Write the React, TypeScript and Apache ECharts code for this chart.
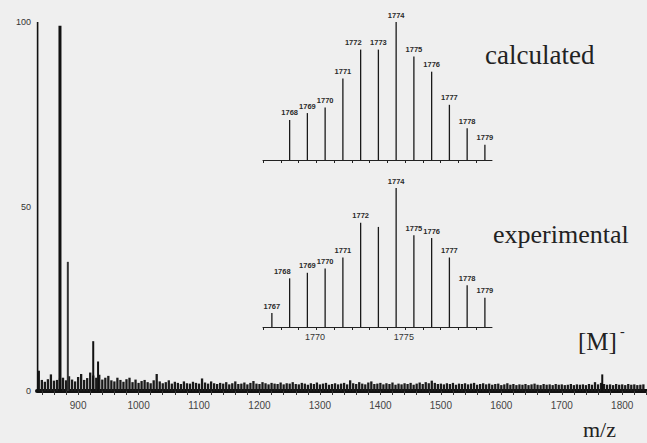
import React, { useEffect, useRef } from "react";
import * as echarts from "echarts";

// ---- data ----
const mainTickLabels = [900, 1000, 1100, 1200, 1300, 1400, 1500, 1600, 1700, 1800];
const yTickLabels = [0, 50, 100];

// strong peaks of the full spectrum [m/z, relative intensity %]
const mainPeakMz = [833, 870, 883, 925, 933, 1767];
const mainPeakInt = [100, 99, 35, 13.5, 8, 4.5];

// baseline noise, one reading every 5 m/z starting at 835
const noiseStartMz = 835;
const noiseStepMz = 5;
const noiseInt = [
  5.5, 3.0, 2.5, 3.2, 4.5, 2.8, 3.0, 3.4, 3.6, 2.9, 4.0, 3.1, 2.6, 3.8, 4.6, 3.0, 3.5, 5.0, 4.2, 3.6,
  4.4, 3.1, 3.6, 4.1, 2.9, 2.6, 3.6, 3.0, 2.5, 3.2, 3.6, 2.4, 3.1, 2.2, 2.7, 3.0, 2.4, 2.1, 2.9, 4.6,
  2.6, 2.1, 2.4, 2.9, 2.0, 2.5, 2.2, 1.9, 2.6, 2.1, 2.0, 2.5, 2.2, 2.0, 3.4, 2.3, 2.0, 2.6, 2.1, 1.9,
  2.2, 2.0, 2.4, 1.8, 2.1, 2.6, 1.9, 2.0, 2.3, 1.8, 2.2, 2.7, 2.0, 1.9, 2.4, 2.1, 1.8, 2.2, 2.0, 1.9,
  2.3, 1.8, 2.1, 2.0, 2.4, 1.9, 1.8, 2.2, 2.0, 1.7, 2.1, 1.9, 2.3, 1.8, 2.0, 2.2, 1.7, 1.9, 2.1, 1.8,
  2.0, 2.2, 1.8, 2.9, 2.1, 1.9, 2.4, 2.0, 1.8, 2.3, 2.6, 1.9, 2.0, 2.2, 1.8, 2.1, 1.9, 2.3, 1.7, 2.0,
  1.8, 2.1, 1.9, 2.2, 1.7, 2.0, 2.3, 1.9, 2.4, 2.1, 2.8, 2.2, 1.9, 2.0, 1.8, 2.1, 1.9, 2.2, 1.7, 2.0,
  1.9, 2.1, 1.8, 2.0, 2.2, 1.7, 1.9, 2.1, 1.8, 2.0, 1.7, 1.9, 2.0, 1.6, 1.8, 2.1, 1.7, 1.9, 1.6, 1.8,
  1.7, 1.9, 1.6, 1.8, 2.0, 1.7, 1.6, 1.9, 1.7, 1.8, 1.6, 1.9, 1.7, 1.8, 1.6, 1.7, 1.9, 1.6, 1.8, 1.7,
  1.8, 1.6, 1.9, 1.7, 2.4, 1.8, 2.2, 1.9, 1.7, 1.8, 1.6, 1.9, 1.7, 1.8, 1.6, 1.9, 1.7, 1.8, 1.6, 1.7, 1.8,
];

// calculated isotope pattern
const calcMz = [1768, 1769, 1770, 1771, 1772, 1773, 1774, 1775, 1776, 1777, 1778, 1779];
const calcInt = [29, 34, 38, 59, 80, 80, 100, 75, 64, 40, 23, 11];
const calcLabels = ["1768", "1769", "1770", "1771", "1772", "1773", "1774", "1775", "1776", "1777", "1778", "1779"];

// experimental isotope pattern
const expMz = [1767, 1768, 1769, 1770, 1771, 1772, 1773, 1774, 1775, 1776, 1777, 1778, 1779];
const expInt = [10, 35, 39, 42, 50, 75, 72, 100, 66, 64, 50, 30, 21];
const expLabels = ["1767", "1768", "1769", "1770", "1771", "1772", "", "1774", "1775", "1776", "1777", "1778", "1779"];
const expTickLabels = [1770, 1775];

const SERIF = "'Liberation Serif', 'DejaVu Serif', serif";
const SANS = "'Liberation Sans', 'DejaVu Sans', sans-serif";

function stick(
  width: (i: number) => number,
  color: (i: number) => string,
  labels?: string[],
  labelAlign?: (i: number) => string
) {
  return (params: any, api: any) => {
    const base = api.coord([api.value(0), 0]);
    const top = api.coord([api.value(0), api.value(1)]);
    const i = params.dataIndex;
    const line = {
      type: "line",
      shape: { x1: base[0], y1: base[1], x2: top[0], y2: top[1] },
      style: { stroke: color(i), lineWidth: width(i) },
    };
    if (!labels || !labels[i]) return line;
    const align = labelAlign ? labelAlign(i) : "center";
    return {
      type: "group",
      children: [
        line,
        {
          type: "text",
          x: align === "right" ? top[0] + 1 : top[0],
          y: top[1] - 3,
          style: {
            text: labels[i],
            align,
            verticalAlign: "bottom",
            fontSize: 7.5,
            fontWeight: "bold",
            fontFamily: SANS,
            fill: "#2a2a2a",
          },
        },
      ],
    };
  };
}

export default function App() {
  const ref = useRef<HTMLDivElement>(null);

  useEffect(() => {
    document.body.style.margin = "0";
    if (!ref.current) return;
    const chart = echarts.init(ref.current, undefined, { renderer: "svg" });

    const minorTicks: number[] = [];
    for (let v = 840; v <= 1840; v += 20) minorTicks.push(v);
    const halfTicks: number[] = [];
    for (let v = 1766.5; v <= 1779.5; v += 1) halfTicks.push(v);

    const noiseData = noiseInt.map((h, i) => [noiseStartMz + i * noiseStepMz, h]);
    const peakData = mainPeakMz.map((m, i) => [m, mainPeakInt[i]]);
    const plain = (v: number) => String(v);

    const insetX = (gridIndex: number, showLabels: boolean) => ({
      type: "value",
      gridIndex,
      min: 1766.5,
      max: 1779.4,
      axisLine: { show: true, lineStyle: { color: "#222", width: 1 } },
      axisTick: { show: true, customValues: halfTicks, length: 3, lineStyle: { color: "#222" } },
      axisLabel: showLabels
        ? {
            show: true,
            customValues: expTickLabels,
            formatter: plain,
            align: "right",
            fontSize: 9,
            fontFamily: SANS,
            color: "#333",
            margin: 5,
          }
        : { show: false },
      splitLine: { show: false },
    });

    chart.setOption({
      animation: false,
      backgroundColor: "#efefef",
      grid: [
        { left: 37, right: 0, top: 22, bottom: 52 },
        { left: 263, width: 229, top: 22, height: 138 },
        { left: 263, width: 229, top: 188, height: 139 },
      ],
      xAxis: [
        {
          type: "value",
          gridIndex: 0,
          min: 832,
          max: 1841,
          axisLine: { show: true, lineStyle: { color: "#111", width: 4 } },
          axisTick: { show: true, customValues: minorTicks, length: 4, lineStyle: { color: "#333" } },
          axisLabel: {
            customValues: mainTickLabels,
            formatter: plain,
            fontSize: 10,
            fontFamily: SANS,
            color: "#444",
            margin: 9,
          },
          splitLine: { show: false },
        },
        insetX(1, false),
        insetX(2, true),
      ],
      yAxis: [
        {
          type: "value",
          gridIndex: 0,
          min: 0,
          max: 100,
          axisLine: { show: false },
          axisTick: { show: false },
          axisLabel: {
            customValues: yTickLabels,
            formatter: plain,
            fontSize: 9,
            fontFamily: SANS,
            color: "#333",
            margin: 6,
          },
          splitLine: { show: false },
        },
        { type: "value", gridIndex: 1, min: 0, max: 100, show: false },
        { type: "value", gridIndex: 2, min: 0, max: 100, show: false },
      ],
      series: [
        {
          type: "custom",
          xAxisIndex: 0,
          yAxisIndex: 0,
          encode: { x: 0, y: 1 },
          data: noiseData,
          renderItem: stick(() => 2.3, () => "#1a1a1a"),
        },
        {
          type: "custom",
          xAxisIndex: 0,
          yAxisIndex: 0,
          encode: { x: 0, y: 1 },
          data: peakData,
          renderItem: stick(
            (i) => (i === 1 ? 3 : i === 0 ? 1.6 : 2),
            (i) => (i === 2 ? "#333" : "#111")
          ),
        },
        {
          type: "custom",
          xAxisIndex: 1,
          yAxisIndex: 1,
          encode: { x: 0, y: 1 },
          data: calcMz.map((m, i) => [m, calcInt[i]]),
          renderItem: stick(() => 1.3, () => "#1a1a1a", calcLabels, (i) => (i === 4 ? "right" : "center")),
        },
        {
          type: "custom",
          xAxisIndex: 2,
          yAxisIndex: 2,
          encode: { x: 0, y: 1 },
          data: expMz.map((m, i) => [m, expInt[i]]),
          renderItem: stick(() => 1.3, () => "#1a1a1a", expLabels, (i) => (i === 1 ? "right" : "center")),
        },
      ],
      graphic: [
        {
          type: "text",
          x: 485,
          y: 55,
          style: { text: "calculated", font: `27px ${SERIF}`, fill: "#222", verticalAlign: "middle" },
        },
        {
          type: "text",
          x: 493,
          y: 234,
          style: { text: "experimental", font: `26px ${SERIF}`, fill: "#222", verticalAlign: "middle" },
        },
        {
          type: "text",
          x: 578,
          y: 341,
          style: { text: "[M]", font: `25px ${SERIF}`, fill: "#222", verticalAlign: "middle" },
        },
        {
          type: "text",
          x: 620,
          y: 331,
          style: { text: "-", font: `14px ${SERIF}`, fill: "#222", verticalAlign: "middle" },
        },
        {
          type: "text",
          x: 583,
          y: 429,
          style: { text: "m/z", font: `22px ${SERIF}`, fill: "#222", verticalAlign: "middle" },
        },
      ],
    });

    return () => chart.dispose();
  }, []);

  return <div ref={ref} style={{ width: 647, height: 443 }} />;
}
